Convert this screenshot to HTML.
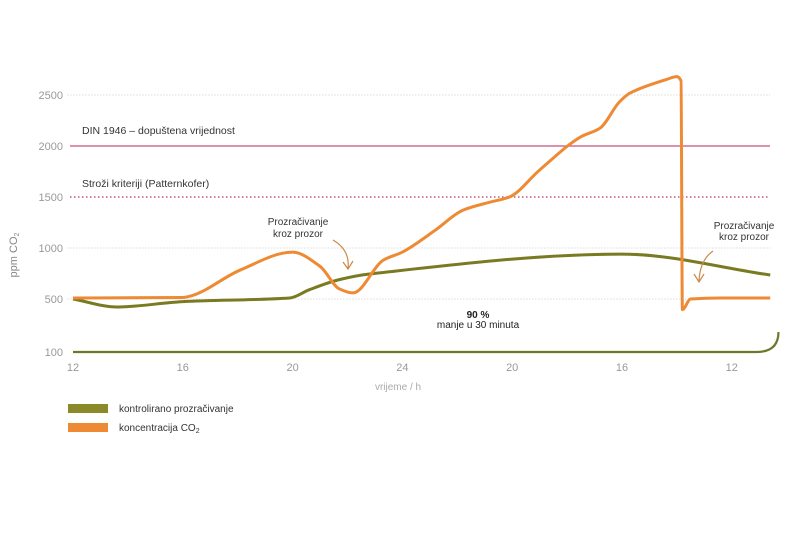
<!DOCTYPE html>
<html><head><meta charset="utf-8"><style>
html,body{margin:0;padding:0;background:#fff;width:800px;height:533px;overflow:hidden}
svg{font-family:"Liberation Sans",sans-serif}
</style></head><body>
<svg id="chart" width="800" height="533" viewBox="0 0 800 533" xmlns="http://www.w3.org/2000/svg">
<g id="grid"></g>
<g id="ylabels"></g>
<g id="xlabels"></g>
<g id="series"></g>
<text transform="translate(17,255) rotate(-90)" text-anchor="middle" font-size="11" fill="#888">ppm CO<tspan font-size="7" dy="2">2</tspan></text>
<text x="398" y="390" text-anchor="middle" font-size="10" fill="#aaa">vrijeme / h</text>
<text x="82" y="134" font-size="10.5" fill="#333">DIN 1946 – dopuštena vrijednost</text>
<text x="82" y="187" font-size="10.5" fill="#333">Stroži kriteriji (Patternkofer)</text>
<text font-size="10" fill="#333" text-anchor="middle"><tspan x="298" y="225">Prozračivanje</tspan><tspan x="298" y="237">kroz prozor</tspan></text>
<path d="M333 240 Q350 250 348 268 M343 262 L348 269 L353 261" fill="none" stroke="#c98a4a" stroke-width="1.2"/>
<text font-size="10" fill="#333" text-anchor="middle"><tspan x="744" y="229">Prozračivanje</tspan><tspan x="744" y="240">kroz prozor</tspan></text>
<path d="M713 251 Q700 260 699 281 M694 274 L699 282 L704 274" fill="none" stroke="#c98a4a" stroke-width="1.2"/>
<text font-size="10" fill="#222" text-anchor="middle"><tspan x="478" y="318" font-weight="bold">90 %</tspan><tspan x="478" y="328">manje u 30 minuta</tspan></text>
<rect x="68" y="404" width="40" height="9" fill="#8a8a2a"/>
<text x="119" y="412" font-size="10" fill="#333">kontrolirano prozračivanje</text>
<rect x="68" y="423" width="40" height="9" fill="#ee8a33"/>
<text x="119" y="431" font-size="10" fill="#333">koncentracija CO<tspan font-size="7" dy="2">2</tspan></text>
</svg>
<script>
const yTicks=[100,500,1000,1500,2000,2500];
const xTickLabels=["12","16","20","24","20","16","12"];
const xTickHours=[0,4,8,12,16,20,24];
const orangeHours=[0,4,4.3,6.1,8,9,9.7,10.2,11.3,12,13.2,14.2,15.2,15.9,17,18.5,19.2,19.9,20.3,21.6,22.0,22.15,22.2,22.5,23.6,25.4];
const orangeValues=[510,515,530,785,960,820,600,560,880,960,1175,1370,1450,1500,1765,2090,2175,2430,2520,2650,2680,2640,420,500,510,510];
const greenHours=[0,1.6,4,7.9,8.6,9.7,10.8,20,25.4];
const greenValues=[500,440,480,510,590,690,745,940,735];
const NS='http://www.w3.org/2000/svg';
function y(v){return v>=500?299-(v-500)*0.102:299+(500-v)*0.1325;}
function x(h){return 73+h*27.45;}
function mk(tag,attrs,parent){const e=document.createElementNS(NS,tag);for(const k in attrs)e.setAttribute(k,attrs[k]);parent.appendChild(e);return e;}
const grid=document.getElementById('grid'),yl=document.getElementById('ylabels'),xl=document.getElementById('xlabels'),ser=document.getElementById('series');
yTicks.forEach(v=>{
  if(v>100){
    let st='#ddd',dash='1.5 1.5',w=1;
    if(v===2000){st='#c8527a';dash='';w=1.3;}
    if(v===1500){st='#c8527a';dash='1.5 2.5';w=1.5;}
    const l=mk('line',{x1:v===2000||v===1500?70:67,x2:770,y1:y(v),y2:y(v),stroke:st,'stroke-width':w,'stroke-dasharray':dash},grid);
    
    
  }
  const t=mk('text',{x:63,y:y(v)+4,'text-anchor':'end','font-size':11,fill:'#999'},yl);t.textContent=v;
  
  
});
xTickLabels.forEach((s,i)=>{const t=mk('text',{x:x(xTickHours[i]),y:371,'text-anchor':'middle','font-size':11,fill:'#999'},xl);t.textContent=s;
  
  });
function monotone(hs,vs){
  const p=hs.map((h,i)=>[x(h),y(vs[i])]);const n=p.length;const d=[],m=[];
  for(let i=0;i<n-1;i++)d.push((p[i+1][1]-p[i][1])/(p[i+1][0]-p[i][0]));
  m[0]=d[0];m[n-1]=d[n-2];
  for(let i=1;i<n-1;i++){m[i]=(d[i-1]*d[i]<=0)?0:3*(d[i-1]+d[i])/(2*(d[i-1]/d[i]+1)+(d[i]/d[i-1]+1))*0+ (2*d[i-1]*d[i])/(d[i-1]+d[i]);}
  let s='M'+p[0][0]+' '+p[0][1];
  for(let i=0;i<n-1;i++){const h=(p[i+1][0]-p[i][0])/3;
    s+=` C${p[i][0]+h} ${p[i][1]+m[i]*h} ${p[i+1][0]-h} ${p[i+1][1]-m[i+1]*h} ${p[i+1][0]} ${p[i+1][1]}`;}
  return s;}
const base=mk('path',{d:`M${x(0)} ${y(100)} L${x(24.9)} ${y(100)} Q${x(25.7)} ${y(100)} ${x(25.7)} ${y(100)-20}`,fill:'none',stroke:'#6b7a2a','stroke-width':2.2},ser);


const g=mk('path',{d:monotone(greenHours,greenValues),fill:'none',stroke:'#7a7a22','stroke-width':3,'stroke-linejoin':'round'},ser);


const o=mk('path',{d:monotone(orangeHours,orangeValues),fill:'none',stroke:'#ee8a33','stroke-width':3,'stroke-linejoin':'round'},ser);


</script>
</body></html>
